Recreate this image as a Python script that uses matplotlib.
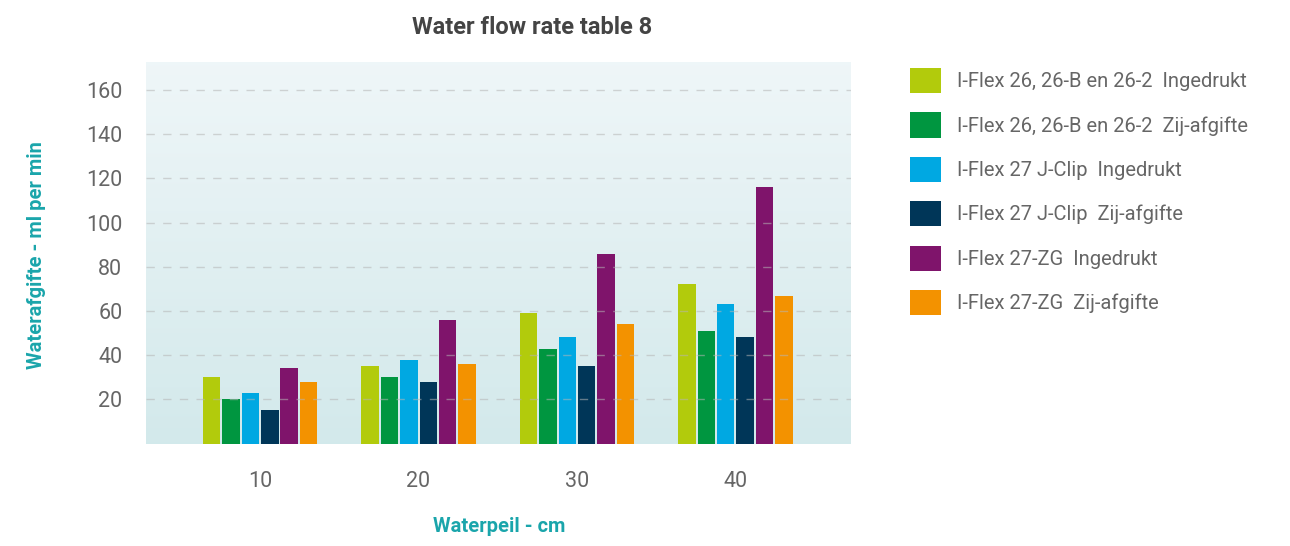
import numpy as np
import matplotlib
matplotlib.use("Agg")
import matplotlib.pyplot as plt
from matplotlib.patches import Patch

plt.rcParams['font.family'] = ['Roboto', 'DejaVu Sans']

# data
categories = ["10", "20", "30", "40"]
series_names = [
    "I-Flex 26, 26-B en 26-2  Ingedrukt",
    "I-Flex 26, 26-B en 26-2  Zij-afgifte",
    "I-Flex 27 J-Clip  Ingedrukt",
    "I-Flex 27 J-Clip  Zij-afgifte",
    "I-Flex 27-ZG  Ingedrukt",
    "I-Flex 27-ZG  Zij-afgifte",
]
flex26_ingedrukt = [30, 35, 59, 72]
flex26_zij = [20, 30, 43, 51]
jclip_ingedrukt = [23, 38, 48, 63]
jclip_zij = [15, 28, 35, 48]
zg_ingedrukt = [34, 56, 86, 116]
zg_zij = [28, 36, 54, 67]
series = [flex26_ingedrukt, flex26_zij, jclip_ingedrukt, jclip_zij, zg_ingedrukt, zg_zij]
colors = ["#B2CB0C", "#009640", "#00A8E2", "#003658", "#7F146B", "#F39200"]
yticks = [20, 40, 60, 80, 100, 120, 140, 160]

teal = "#1AA5AB"
grey = "#666666"

fig = plt.figure(figsize=(12.9, 5.46), dpi=100)
ax = fig.add_axes([0.1132, 0.1877, 0.5465, 0.6987])

# gradient background
grad = np.linspace(0, 1, 256).reshape(-1, 1)
top = np.array([0.937, 0.965, 0.973])
bot = np.array([0.827, 0.914, 0.922])
img = top[None, None, :] * (1 - grad[:, :, None]) + bot[None, None, :] * grad[:, :, None]
ax.imshow(img, extent=[0, 1, 0, 1], transform=ax.transAxes, aspect='auto', zorder=0)

x = np.arange(len(categories))
step = 0.1225
width = 0.11
for i, (vals, c, name) in enumerate(zip(series, colors, series_names)):
    ax.bar(x + (i - 2.5) * step, vals, width=width, color=c, label=name, zorder=2)

ax.set_xlim(-0.72, 3.73)
ax.set_ylim(0, 172.7)
ax.set_yticks(yticks)
ax.set_xticks(x)
ax.set_xticklabels(categories)
for y in yticks:
    ax.axhline(y, color="#b5b5b5", lw=1, ls=(0, (6, 6)), alpha=0.55, zorder=3)
for s in ax.spines.values():
    s.set_visible(False)
ax.tick_params(axis='both', length=0, labelsize=15.5, colors=grey)
ax.tick_params(axis='y', pad=17)
ax.tick_params(axis='x', pad=20)

fig.text(37 / 1290, 1 - 255 / 546, "Waterafgifte - ml per min", rotation=90, ha='center', va='center',
         color=teal, fontsize=14.5, fontweight='bold')
fig.text(499 / 1290, 1 - 527 / 546, "Waterpeil - cm", ha='center', va='center',
         color=teal, fontsize=14.5, fontweight='bold')
fig.text(532 / 1290, 1 - 27 / 546, "Water flow rate table 8", ha='center', va='center',
         fontsize=17, fontweight='bold', color="#444444")

handles = [Patch(facecolor=c) for c in colors]
leg = fig.legend(handles, series_names, loc='upper left', bbox_to_anchor=(894 / 1290, 1 - 52 / 546),
                 frameon=False, fontsize=14.5, handlelength=1.55, handleheight=1.55,
                 labelspacing=0.95, handletextpad=0.8, borderpad=0.3)
for t in leg.get_texts():
    t.set_color(grey)

fig.savefig("out.png", dpi=100)
